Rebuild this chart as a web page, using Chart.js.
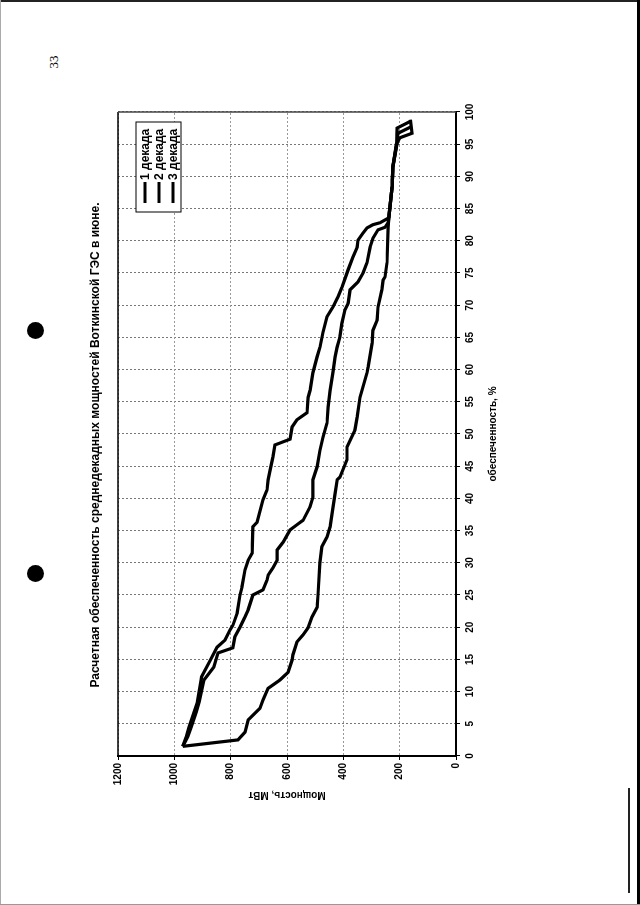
<!DOCTYPE html>
<html>
<head>
<meta charset="utf-8">
<script src="https://cdn.jsdelivr.net/npm/chart.js@4.4.1/dist/chart.umd.min.js"></script>
<style>
  body { margin: 0; width: 640px; height: 905px; overflow: hidden; background: #fff; position: relative; }
  #rot { position: absolute; left: 0; top: 0; width: 905px; height: 640px;
         transform-origin: 0 0; transform: translate(0px, 905px) rotate(-90deg); }
  .hole { position: absolute; width: 17px; height: 17px; border-radius: 50%; background: #000; }
  #pageNo { position: absolute; left: 47px; top: 54px; font: 13px "Liberation Serif", serif;
            transform: rotate(-90deg); transform-origin: 50% 50%; }
</style>
</head>
<body>
<div style="position:absolute;left:0;top:0;width:640px;height:2px;background:#222"></div>
<div style="position:absolute;left:0;top:0;width:1px;height:905px;background:#aaa"></div>
<div style="position:absolute;right:0;top:0;width:3px;height:905px;background:#000"></div>
<div style="position:absolute;left:0;bottom:0;width:640px;height:1px;background:#999"></div>
<div style="position:absolute;left:628px;top:788px;width:2px;height:105px;background:#222"></div>
<div class="hole" style="left:27px;top:322px"></div>
<div class="hole" style="left:27px;top:565px"></div>
<div id="pageNo">33</div>

<div id="rot"><canvas id="chart" width="905" height="640"></canvas></div>

<script>
// обеспеченность, % и мощность, МВт для каждой декады
const dek1Pct = [1.5, 3, 4.5, 6.8, 8.4, 11.8, 12.3, 14.9, 16.9, 18, 19.6, 20.3, 22.2, 25, 26.2, 28.9, 30.4, 31.5, 35.6, 36.3, 39.8, 41.3, 42.9, 44.4, 46.4, 48.3, 48.6, 49.2, 51.1, 52.2, 53.3, 55.7, 56.8, 59.5, 62, 63.5, 65.8, 68.2, 69.7, 71.3, 72.8, 75.5, 77.5, 79, 80.1, 81.2, 82, 82.5, 82.8, 83.5, 83.7, 88.4, 91.5, 95.2, 97.5, 98.6];
const dek1Mw  = [970, 958, 948, 930, 918, 905, 903, 872, 848, 820, 802, 792, 777, 767, 760, 749, 738, 724, 721, 706, 685, 671, 667, 660, 650, 643, 625, 589, 582, 565, 529, 525, 518, 508, 493, 483, 472, 458, 437, 419, 405, 383, 366, 351, 348, 330, 316, 295, 270, 241, 238, 227, 224, 211, 209, 160];

const dek2Pct = [1.5, 3, 4.5, 6.8, 8.4, 11.8, 13.8, 16, 16.8, 18.5, 20, 21.6, 22.7, 25, 25.8, 27.3, 28.1, 29.2, 30.4, 32, 33.2, 35.1, 35.9, 36.6, 38.7, 40.2, 42.9, 44.9, 47.5, 49.5, 51.7, 54.2, 56.8, 59.5, 62, 63.5, 65.1, 67.2, 69.3, 70.3, 72.4, 73.6, 75, 76.6, 79, 80.4, 81.7, 82.1, 82.8, 83.7, 88.4, 91.5, 95.2, 96.7, 97.7];
const dek2Mw  = [970, 952, 940, 922, 912, 895, 860, 845, 792, 785, 767, 749, 738, 721, 685, 671, 667, 650, 635, 635, 614, 589, 565, 543, 518, 508, 508, 493, 483, 472, 458, 454, 447, 437, 429, 422, 412, 405, 394, 383, 376, 348, 330, 316, 305, 295, 277, 252, 241, 238, 227, 224, 210, 206, 160];

const dek3Pct = [1.5, 2.5, 3.7, 5.6, 7.4, 8.7, 10.5, 11.8, 13, 14.9, 15.7, 17.7, 18.8, 19.9, 21.6, 23.1, 25, 30, 32.5, 34, 35.6, 37.7, 40.8, 42.9, 43.3, 46, 48, 50.6, 52.6, 55.7, 59.5, 60.4, 64.1, 66.1, 67.7, 69.7, 72.4, 73.9, 74.4, 76.6, 82.1, 83.7, 88.4, 91.5, 95.2, 96, 96.7, 98.8];
const dek3Mw  = [970, 774, 749, 738, 696, 685, 667, 625, 596, 582, 579, 565, 543, 525, 511, 493, 490, 483, 476, 458, 447, 440, 429, 422, 412, 387, 387, 359, 351, 341, 316, 312, 298, 295, 280, 277, 263, 259, 252, 245, 241, 238, 227, 224, 209, 199, 156, 162];

const seriesNames = ["1 декада", "2 декада", "3 декада"];
const pctTicks = { min: 0, max: 100, step: 5 };
const mwTicks = { min: 0, max: 1200, step: 200 };

const toPoints = (xs, ys) => xs.map((x, i) => ({ x: x, y: ys[i] }));

const FONT = '"Liberation Sans", Arial, sans-serif';

const decorPlugin = {
  id: "decor",
  afterDatasetsDraw(chart) {
    const { ctx, chartArea: a } = chart;
    ctx.save();
    // рамка области построения
    ctx.lineWidth = 1.5;
    ctx.strokeStyle = "#000";
    ctx.beginPath(); ctx.moveTo(a.left, a.top); ctx.lineTo(a.right, a.top); ctx.stroke();
    ctx.strokeStyle = "#444";
    ctx.beginPath(); ctx.moveTo(a.right, a.top); ctx.lineTo(a.right, a.bottom); ctx.stroke();

    // заголовок
    ctx.fillStyle = "#000";
    ctx.font = "bold 12px " + FONT;
    ctx.textAlign = "center";
    ctx.textBaseline = "middle";
    ctx.fillText("Расчетная обеспеченность среднедекадных мощностей Воткинской ГЭС в июне.", 460, 96);

    // легенда
    const bx = a.right - 100, by = a.top + 18;
    ctx.lineWidth = 1;
    ctx.strokeStyle = "#000";
    ctx.fillStyle = "#fff";
    ctx.fillRect(bx, by, 90, 45);
    ctx.strokeRect(bx, by, 90, 45);
    ctx.font = "bold 12px " + FONT;
    ctx.textAlign = "left";
    chart.data.datasets.forEach((ds, i) => {
      const yy = by + 9 + i * 14;
      ctx.strokeStyle = ds.borderColor;
      ctx.lineWidth = 3;
      ctx.beginPath(); ctx.moveTo(bx + 9, yy); ctx.lineTo(bx + 30, yy); ctx.stroke();
      ctx.fillStyle = "#000";
      ctx.fillText(ds.label, bx + 32, yy + 1);
    });
    ctx.restore();
  }
};

const makeSet = (label, xs, ys) => ({
  label: label,
  data: toPoints(xs, ys),
  showLine: true,
  borderColor: "#000",
  borderWidth: 3.2,
  pointRadius: 0,
  tension: 0,
  fill: false
});

new Chart(document.getElementById("chart"), {
  type: "scatter",
  data: {
    datasets: [
      makeSet(seriesNames[0], dek1Pct, dek1Mw),
      makeSet(seriesNames[1], dek2Pct, dek2Mw),
      makeSet(seriesNames[2], dek3Pct, dek3Mw)
    ]
  },
  options: {
    responsive: false,
    animation: false,
    devicePixelRatio: 1,
    layout: { padding: { top: 118, right: 112, left: 0, bottom: 0 } },
    plugins: { legend: { display: false }, title: { display: false }, tooltip: { enabled: false } },
    scales: {
      x: {
        type: "linear",
        min: pctTicks.min,
        max: pctTicks.max,
        ticks: { stepSize: pctTicks.step, color: "#000", font: { family: FONT, size: 10, weight: "bold" }, padding: 4, maxRotation: 0,
                 callback: (v) => String(v) },
        grid: { color: "#777", lineWidth: 1, tickColor: "#000", tickLength: 4 },
        border: { color: "#000", width: 2, dash: [2, 2] },
        title: { display: true, text: "обеспеченность, %", color: "#000", font: { family: FONT, size: 10, weight: "bold" }, padding: { top: 0, bottom: 141 } },
        afterFit: (s) => { s.height = 184; }
      },
      y: {
        type: "linear",
        min: mwTicks.min,
        max: mwTicks.max,
        ticks: { stepSize: mwTicks.step, color: "#000", font: { family: FONT, size: 10, weight: "bold" }, padding: 3,
                 callback: (v) => String(v) },
        grid: { color: "#999", lineWidth: 1, tickColor: "#000", tickLength: 4 },
        border: { color: "#000", width: 2, dash: [2, 2] },
        title: { display: true, text: "Мощность, МВт", color: "#000", font: { family: FONT, size: 10, weight: "bold" }, padding: { top: 104, bottom: 0 } },
        afterFit: (s) => { s.width = 149; }
      }
    }
  },
  plugins: [decorPlugin]
});
</script>
</body>
</html>
